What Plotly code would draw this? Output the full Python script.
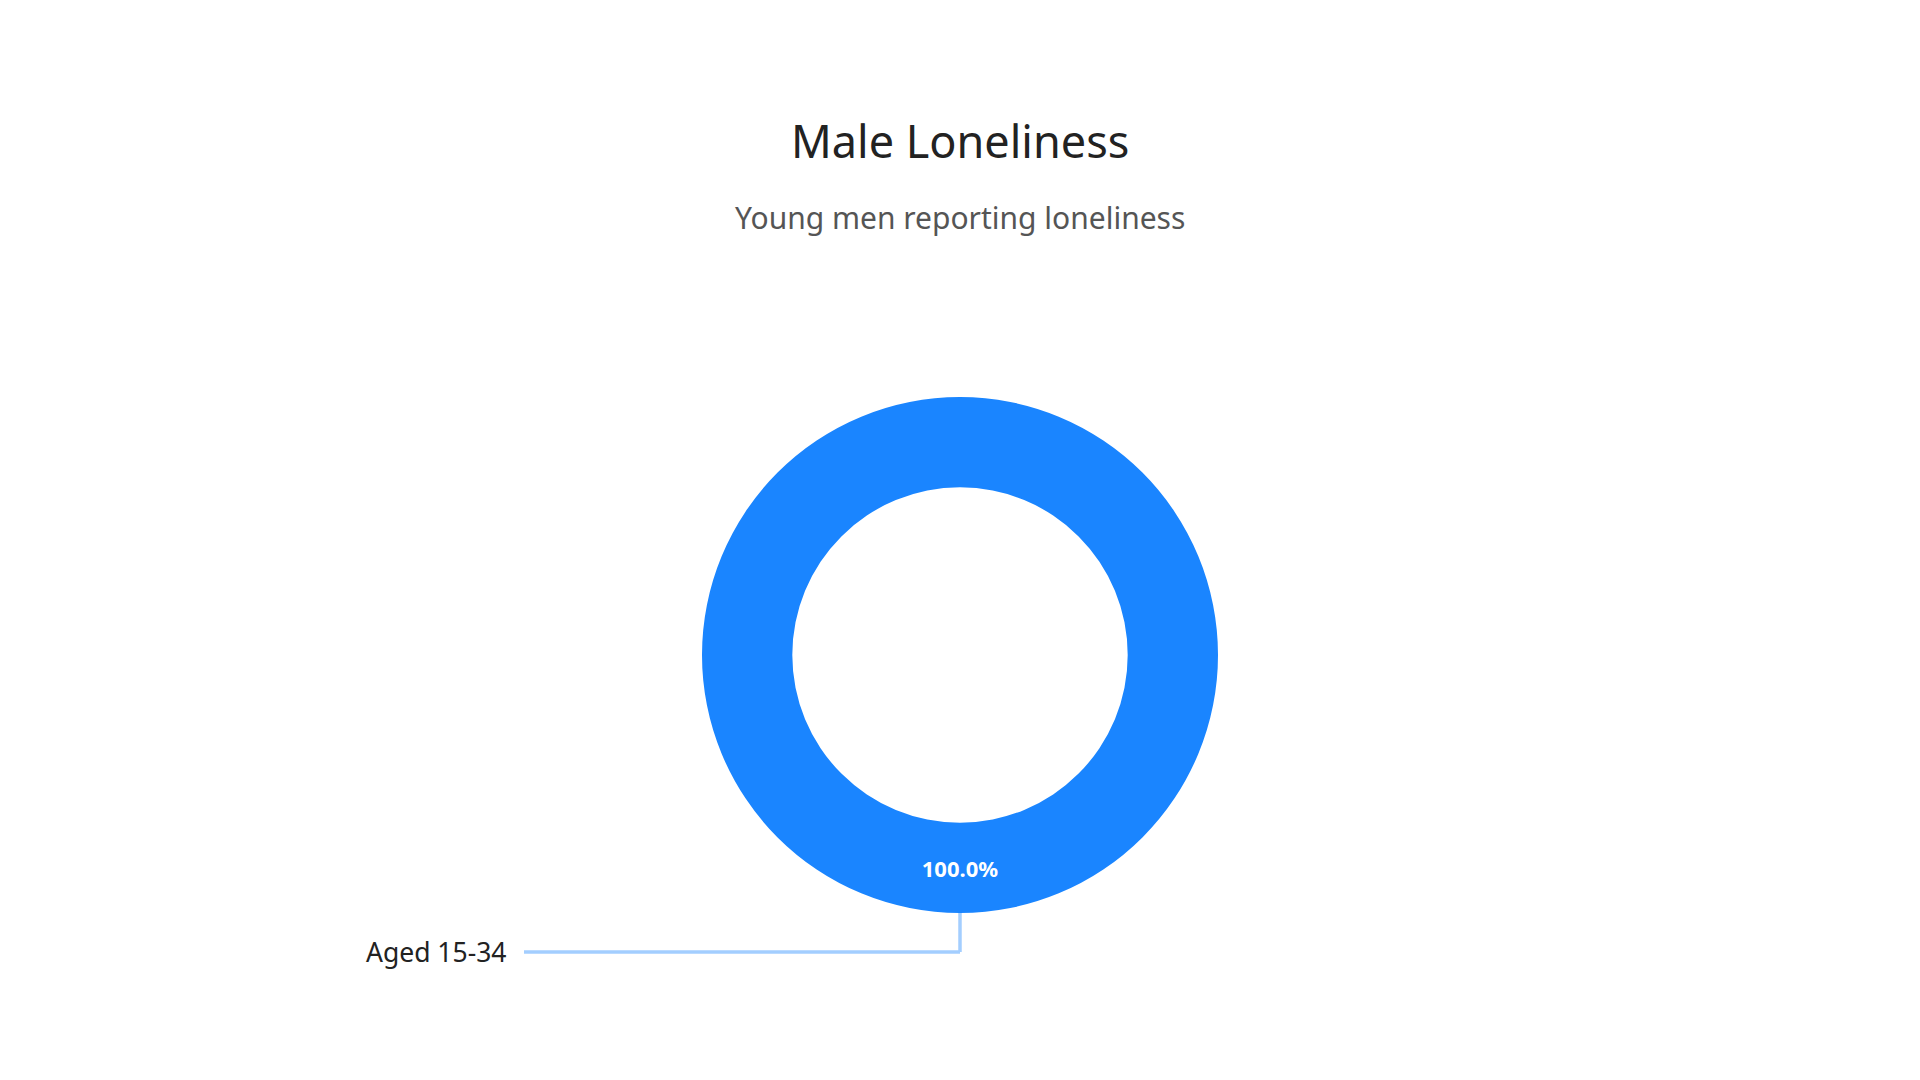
import plotly.graph_objects as go

# Data
labels = ["Aged 15-34"]
values = [100]
title_text = "Male Loneliness"
subtitle_text = "Young men reporting loneliness"

W, H = 1920, 1080
FONT = "Noto Sans"
BLUE = "#1a85ff"

# pie geometry (pixels)
cx, cy, R = 960, 655, 258
dom_x = [(cx - R) / W, (cx + R) / W]
dom_y = [(H - (cy + R)) / H, (H - (cy - R)) / H]

fig = go.Figure(go.Pie(
    labels=labels,
    values=values,
    hole=0.65,
    sort=False,
    direction="clockwise",
    rotation=0,
    marker=dict(colors=[BLUE], line=dict(color="white", width=0)),
    texttemplate="%{percent:.1%}",
    textposition="inside",
    insidetextorientation="horizontal",
    textfont=dict(family=FONT, size=22, color="white", weight="bold"),
    domain=dict(x=dom_x, y=dom_y),
    showlegend=False,
    hoverinfo="label+percent",
))

# leader line and outside label
y_bottom = (H - (cy + R)) / H
y_line = (H - 952) / H
x_end = 524 / W
line_color = "#a3ceff"
fig.add_shape(type="line", xref="paper", yref="paper",
              x0=0.5, y0=y_bottom, x1=0.5, y1=y_line,
              line=dict(color=line_color, width=3.5))
fig.add_shape(type="line", xref="paper", yref="paper",
              x0=0.5, y0=y_line, x1=x_end, y1=y_line,
              line=dict(color=line_color, width=3.5))
fig.add_annotation(text=labels[0], xref="paper", yref="paper",
                   x=509 / W, y=y_line, xanchor="right", yanchor="middle",
                   showarrow=False,
                   font=dict(family=FONT, size=26.5, color="#222222"))

# title & subtitle
fig.add_annotation(text=title_text, xref="paper", yref="paper",
                   x=0.5, y=(H - 141) / H, xanchor="center", yanchor="middle",
                   showarrow=False,
                   font=dict(family=FONT, size=45, color="#222222"))
fig.add_annotation(text=subtitle_text, xref="paper", yref="paper",
                   x=0.5, y=(H - 218) / H, xanchor="center", yanchor="middle",
                   showarrow=False,
                   font=dict(family=FONT, size=30, color="#555555"))

fig.update_layout(
    width=W, height=H,
    margin=dict(l=0, r=0, t=0, b=0),
    paper_bgcolor="white",
    plot_bgcolor="white",
    font=dict(family=FONT),
)

fig.write_html("out.html")
